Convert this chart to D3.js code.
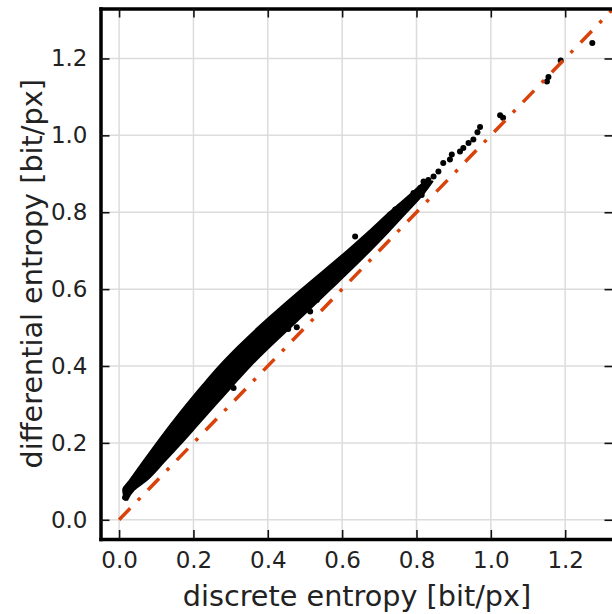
<!DOCTYPE html>
<html>
<head>
<meta charset="utf-8">
<script src="https://cdn.jsdelivr.net/npm/d3@7"></script>
<style>
	body { margin: 0; background: #fff; }
	svg { display: block; font-family: "DejaVu Sans", sans-serif; }
</style>
</head>
<body>
<div id="chart"></div>
<script>
// dense part of the cloud, read as horizontal spans: differential entropy level -> left / right discrete entropy
const bandY     = [0.052, 0.078, 0.100, 0.150, 0.200, 0.250, 0.300, 0.350, 0.400, 0.450, 0.500, 0.550, 0.600, 0.650, 0.700, 0.750, 0.800, 0.850, 0.880];
const bandLeft  = [0.016, 0.011, 0.027, 0.064, 0.102, 0.141, 0.182, 0.225, 0.270, 0.320, 0.374, 0.432, 0.492, 0.553, 0.614, 0.672, 0.728, 0.788, 0.822];
const bandRight = [0.022, 0.040, 0.070, 0.120, 0.168, 0.214, 0.260, 0.306, 0.353, 0.405, 0.460, 0.515, 0.569, 0.623, 0.675, 0.725, 0.773, 0.820, 0.843];

// single points: the sparse top end and a few strays off the band
const pointX = [0.016, 0.720, 0.729, 0.743, 0.756, 0.769, 0.783, 0.792, 0.814, 0.810, 0.819, 0.832, 0.846, 0.859, 0.872, 0.890, 0.895, 0.917, 0.926, 0.940, 0.953, 0.964, 0.971,
	1.025, 1.033, 1.151, 1.155, 1.188, 1.273, 0.308, 0.455, 0.478, 0.514, 0.532, 0.635, 0.707];
const pointY = [0.058, 0.780, 0.794, 0.807, 0.815, 0.824, 0.837, 0.850, 0.845, 0.863, 0.880, 0.884, 0.893, 0.906, 0.928, 0.937, 0.950, 0.958, 0.967, 0.980, 0.989, 1.008, 1.022,
	1.052, 1.046, 1.140, 1.152, 1.195, 1.240, 0.343, 0.496, 0.501, 0.542, 0.572, 0.737, 0.750];

const tickVals   = [0.0, 0.2, 0.4, 0.6, 0.8, 1.0, 1.2];
const tickLabels = ["0.0", "0.2", "0.4", "0.6", "0.8", "1.0", "1.2"];
const axisLimits = [-0.05, 1.33];
const refLine    = [0, 1.4];

class EntropyScatter {
	constructor(settings) {
		Object.assign(this, settings);

		this.svg = d3.select(this.id)
			.append("svg")
			.attr("width", this.w)
			.attr("height", this.h);

		this.svg.append("defs").append("clipPath")
			.attr("id", "plot-clip")
			.append("rect")
			.attr("x", this.margin.left)
			.attr("y", this.margin.top)
			.attr("width", this.w - this.margin.left - this.margin.right)
			.attr("height", this.h - this.margin.top - this.margin.bottom);

		this.setScales();
	}

	setScales() {
		this.x = d3.scaleLinear()
			.domain(axisLimits)
			.range([this.margin.left, this.w - this.margin.right]);

		this.y = d3.scaleLinear()
			.domain(axisLimits)
			.range([this.h - this.margin.bottom, this.margin.top]);
	}

	render() {
		this.drawGrid();
		this.drawCloud();
		this.drawRefLine();
		this.drawAxes();
		this.drawLabels();
	}

	drawGrid() {
		let g = this.svg.append("g").attr("class", "grid");

		g.selectAll("line.vx")
			.data(tickVals)
			.enter().append("line")
			.attr("x1", (d) => this.x(d))
			.attr("x2", (d) => this.x(d))
			.attr("y1", this.y.range()[0])
			.attr("y2", this.y.range()[1]);

		g.selectAll("line.hy")
			.data(tickVals)
			.enter().append("line")
			.attr("x1", this.x.range()[0])
			.attr("x2", this.x.range()[1])
			.attr("y1", (d) => this.y(d))
			.attr("y2", (d) => this.y(d));

		g.selectAll("line")
			.attr("stroke", "#dcdcdc")
			.attr("stroke-width", 1.5);
	}

	drawCloud() {
		let g = this.svg.append("g").attr("clip-path", "url(#plot-clip)");

		let band = bandY.map((v, i) => ({ y: v, l: bandLeft[i], r: bandRight[i] }));

		let area = d3.area()
			.curve(d3.curveMonotoneY)
			.y((d) => this.y(d.y))
			.x0((d) => this.x(d.l))
			.x1((d) => this.x(d.r));

		g.append("path")
			.datum(band)
			.attr("d", area)
			.attr("fill", "#000")
			.attr("stroke", "#000")
			.attr("stroke-width", 2)
			.attr("stroke-linejoin", "round");

		g.selectAll("circle")
			.data(pointX.map((v, i) => [v, pointY[i]]))
			.enter().append("circle")
			.attr("cx", (d) => this.x(d[0]))
			.attr("cy", (d) => this.y(d[1]))
			.attr("r", 3)
			.attr("fill", "#000");
	}

	drawRefLine() {
		this.svg.append("line")
			.attr("clip-path", "url(#plot-clip)")
			.attr("x1", this.x(refLine[0]))
			.attr("y1", this.y(refLine[0]))
			.attr("x2", this.x(refLine[1]))
			.attr("y2", this.y(refLine[1]))
			.attr("stroke", "#d9420b")
			.attr("stroke-width", 3.5)
			.attr("stroke-dasharray", "16,11,3.5,11");
	}

	drawAxes() {
		let fmt = (d, i) => tickLabels[i];
		let bottom = this.y.range()[0], top = this.y.range()[1];
		let left = this.x.range()[0], right = this.x.range()[1];

		let axes = [
			{ axis: d3.axisBottom(this.x).tickFormat(fmt), pos: "translate(0," + bottom + ")" },
			{ axis: d3.axisLeft(this.y).tickFormat(fmt), pos: "translate(" + left + ",0)" },
			{ axis: d3.axisTop(this.x).tickFormat(""), pos: "translate(0," + top + ")" },
			{ axis: d3.axisRight(this.y).tickFormat(""), pos: "translate(" + right + ",0)" }
		];

		axes.forEach((a) => {
			let g = this.svg.append("g")
				.attr("transform", a.pos)
				.call(a.axis.tickValues(tickVals).tickSizeInner(-9).tickSizeOuter(0).tickPadding(13));

			g.select(".domain")
				.attr("stroke", "#000")
				.attr("stroke-width", 3.5)
				.attr("stroke-linecap", "square");

			g.selectAll(".tick line")
				.attr("stroke", "#111")
				.attr("stroke-width", 1.6);

			g.selectAll(".tick text")
				.attr("fill", "#222")
				.style("font-size", "23px")
				.style("font-family", "DejaVu Sans");
		});
	}

	drawLabels() {
		let cx = (this.x.range()[0] + this.x.range()[1]) / 2;
		let cy = (this.y.range()[0] + this.y.range()[1]) / 2;

		this.svg.append("text")
			.attr("x", cx)
			.attr("y", 606)
			.attr("text-anchor", "middle")
			.attr("fill", "#222")
			.style("font-size", "28.7px")
			.text("discrete entropy [bit/px]");

		this.svg.append("text")
			.attr("transform", "translate(42," + cy + ")rotate(-90)")
			.attr("text-anchor", "middle")
			.attr("fill", "#222")
			.style("font-size", "28.7px")
			.text("differential entropy [bit/px]");
	}
}

let chart = new EntropyScatter({
	id: "#chart",
	w: 612,
	h: 614,
	margin: { top: 8.5, right: -1.5, bottom: 75, left: 100.5 }
});
chart.render();
</script>
</body>
</html>
